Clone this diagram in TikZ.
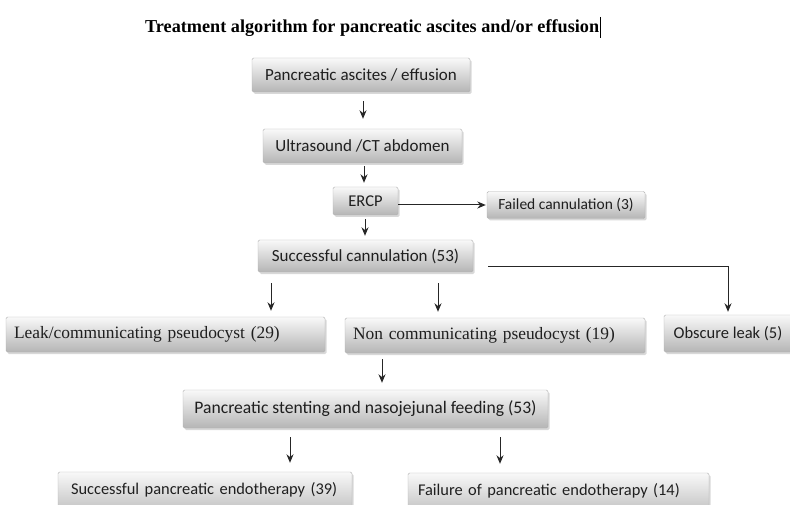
\documentclass[tikz,border=0pt]{standalone}
\usepackage{fontspec}
\setmainfont{Liberation Serif}
\newfontfamily\carl{Carlito}
\usetikzlibrary{arrows.meta,shadows}
\begin{document}
\begin{tikzpicture}[x=1pt,y=-1pt,
 box/.style={draw=gray!60, rounded corners=1.5pt, top color=gray!5, bottom color=gray!58,
   drop shadow={shadow xshift=1.5pt,shadow yshift=-2pt,opacity=0.3},
   inner ysep=0pt, text=black!88, anchor=center},
 sbox/.style={box, font=\carl\fontsize{17}{20}\selectfont},
 rbox/.style={box, font=\fontsize{17.4}{20}\selectfont},
 arr/.style={-{Stealth[length=8.5pt,width=7pt]}, line width=1pt, black!85},
]
\clip (0,0) rectangle (790,505);
\fill[white] (0,0) rectangle (790,505);

\node[anchor=base west, font=\bfseries\fontsize{18.2}{20}\selectfont, inner sep=0pt] (T) at (145,33) {Treatment algorithm for pancreatic ascites and/or effusion};
\draw[line width=1pt] (600,17) -- (600,38);

\node[sbox, minimum width=218pt, minimum height=34pt] (A) at (361,75) {Pancreatic ascites / effusion};
\node[sbox, minimum width=199pt, minimum height=34pt] (B) at (362.5,146) {Ultrasound /CT abdomen};
\node[sbox, minimum width=65pt, minimum height=28pt, font=\carl\fontsize{16.5}{20}\selectfont] (C) at (365.5,201) {ERCP};
\node[sbox, minimum width=158pt, minimum height=27pt, font=\carl\fontsize{15.5}{20}\selectfont] (D) at (566,205) {Failed cannulation (3)};
\node[sbox, minimum width=215pt, minimum height=32pt] (E) at (365.5,256) {Successful cannulation (53)};
\node[rbox, inner xsep=8pt, text width=303pt, align=left, minimum height=35pt] (F) at (165.5,334.5) {Leak/communicating pseudocyst (29)};
\node[rbox, inner xsep=8pt, text width=284pt, align=left, minimum height=35pt] (G) at (495,335.5) {Non communicating pseudocyst (19)};
\node[sbox, minimum width=128pt, minimum height=37pt, font=\carl\fontsize{16.5}{20}\selectfont] (H) at (728,333.5) {Obscure leak (5)};
\node[sbox, minimum width=365pt, minimum height=38pt, font=\carl\fontsize{17.6}{20}\selectfont] (I) at (365.5,409) {Pancreatic stenting and nasojejunal feeding (53)};
\node[sbox, inner xsep=13pt, text width=268pt, align=left, minimum height=48pt, text depth=16pt, font=\carl\fontsize{16.4}{20}\selectfont] (J) at (205,496) {Successful pancreatic endotherapy (39)};
\node[sbox, inner xsep=10pt, text width=281pt, align=left, minimum height=48pt, text depth=16pt, font=\carl\fontsize{16.4}{20}\selectfont] (K) at (558.5,497) {Failure of pancreatic endotherapy (14)};

\draw[arr, shorten <=9pt, shorten >=10pt] (A.south -| 363,0) -- (B.north -| 363,0);
\draw[arr, shorten <=3pt, shorten >=4pt] (B.south -| 364,0) -- (C.north -| 364,0);
\draw[arr, shorten >=1pt] (C.east |- 0,205) -- (D.west |- 0,205);
\draw[arr, shorten <=4pt, shorten >=4pt] (C.south -| 365,0) -- (E.north -| 365,0);
\draw[arr, shorten <=11pt, shorten >=6pt] (E.south -| 271,0) -- (F.north -| 271,0);
\draw[arr, shorten <=11pt, shorten >=6pt] (E.south -| 438,0) -- (G.north -| 438,0);
\coordinate (Hs) at ([xshift=15pt]E.east |- 0,267);
\draw[arr, shorten >=3pt] (Hs) -| (H.north);
\draw[arr, shorten <=6pt, shorten >=7pt] (G.south -| 382,0) -- (I.north -| 382,0);
\draw[arr, shorten <=9pt, shorten >=9pt] (I.south -| 290,0) -- (J.north -| 290,0);
\draw[arr, shorten <=9pt, shorten >=9pt] (I.south -| 500,0) -- (K.north -| 500,0);
\end{tikzpicture}
\end{document}
